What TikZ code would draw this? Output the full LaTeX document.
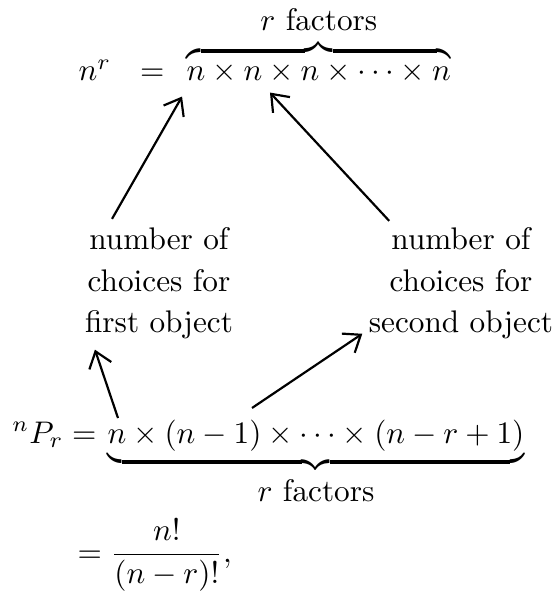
\documentclass[tikz,border=0pt]{standalone}
\usepackage{amsmath, amssymb}
\usepackage{tikz}
\usetikzlibrary{arrows.meta, positioning}

\begin{document}
\begin{tikzpicture}[
    arr/.style={line width=0.7pt, -{Straight Barb[length=1.7mm, width=2.6mm]}},
    eqn/.style={inner sep=0pt},
    choice/.style={inner sep=0pt, align=center, font=\fontsize{10}{13.3}\selectfont}
  ]
      \useasboundingbox (0,0) rectangle (6.242,6.646);

      % top line
      \node[eqn, anchor=base west] (prodtop) at (2.092,5.74)
        {$\overbrace{n\times n\times n\times\cdots\times n}$};
      \node[eqn, anchor=base east] (powr) at ([xshift=-0.236cm]prodtop.base west) {$n^r\hspace{6.5pt}=$};
      \node[eqn, above=2.5pt of prodtop] (counttop) {$r$ factors};
      \coordinate (firstn) at ([shift={(-0.045,-0.18)}]prodtop.base west);
      \coordinate (secondn) at ([shift={(0.944,-0.135)}]prodtop.base west);

      % the two labels
      \node[choice] (firstobj) at (1.788,3.46) {number of\\choices for\\first object};
      \node[choice] (secondobj) at (5.184,3.46) {number of\\choices for\\second object};

      % bottom line
      \node[eqn, anchor=base west] (prodbot) at (1.203,1.664)
        {$\underbrace{n\times(n-1)\times\cdots\times(n-r+1)}$};
      \node[eqn, anchor=base east] (perm) at ([xshift=-0.112cm]prodbot.base west) {${}^nP_r =$};
      \node[eqn, below=1.5pt of prodbot] (countbot) {$r$ factors};
      \node[eqn, anchor=base west] (ratio) at (0.866,0.326) {$= \dfrac{n!}{(n-r)!},$};

      \draw[arr] ([shift={(0.31,0.09)}]firstobj.north west) -- (firstn);
      \draw[arr] ([shift={(0.236,0.067)}]secondobj.north west) -- (secondn);
      \draw[arr] ([shift={(0.124,0.281)}]prodbot.base west) -- ([shift={(0.118,-0.112)}]firstobj.south west);
      \draw[arr] ([shift={(1.631,0.394)}]prodbot.base west) -- ([shift={(-0.067,0.067)}]secondobj.south west);
\end{tikzpicture}
\end{document}
